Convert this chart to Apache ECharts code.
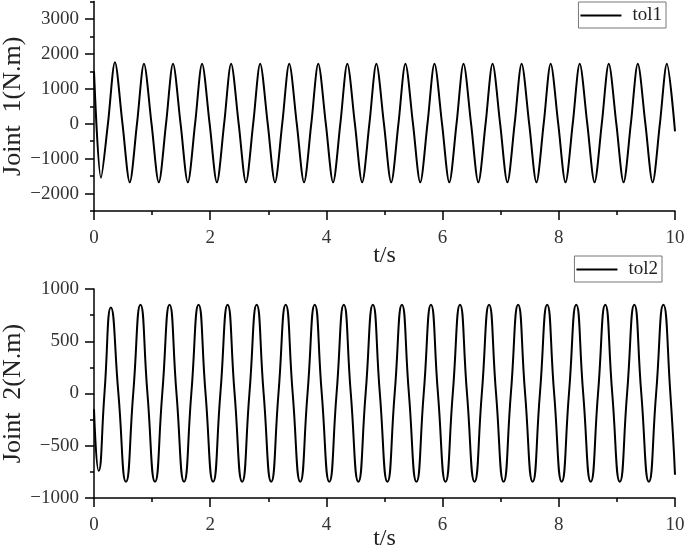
<!DOCTYPE html>
<html>
<head>
<meta charset="utf-8">
<script src="https://cdn.jsdelivr.net/npm/echarts@6/dist/echarts.min.js"></script>
<style>
  html, body { margin: 0; padding: 0; background: #fff; }
  #main { width: 685px; height: 546px; }
</style>
</head>
<body>
<div id="main"></div>
<script>
// joint 1 torque, extrema + zero crossings
var t1 = [0, 0.12, 0.24, 0.36,
  0.49, 0.615, 0.74, 0.86, 0.99, 1.115, 1.24, 1.36, 1.49, 1.615, 1.74, 1.86,
  1.99, 2.115, 2.24, 2.36, 2.49, 2.615, 2.74, 2.86, 2.99, 3.115, 3.24, 3.36,
  3.49, 3.615, 3.74, 3.86, 3.99, 4.115, 4.24, 4.36, 4.49, 4.615, 4.74, 4.86,
  4.99, 5.115, 5.24, 5.36, 5.49, 5.615, 5.74, 5.86, 5.99, 6.115, 6.24, 6.36,
  6.49, 6.615, 6.74, 6.86, 6.99, 7.115, 7.24, 7.36, 7.49, 7.615, 7.74, 7.86,
  7.99, 8.115, 8.24, 8.36, 8.49, 8.615, 8.74, 8.86, 8.99, 9.115, 9.24, 9.36,
  9.49, 9.615, 9.74, 9.86, 10];
var tol1 = [1500, -1550, 0, 1760,
  0, -1680, 0, 1715, 0, -1680, 0, 1715, 0, -1680, 0, 1715,
  0, -1680, 0, 1715, 0, -1680, 0, 1715, 0, -1680, 0, 1715,
  0, -1680, 0, 1715, 0, -1680, 0, 1715, 0, -1680, 0, 1715,
  0, -1680, 0, 1715, 0, -1680, 0, 1715, 0, -1680, 0, 1715,
  0, -1680, 0, 1715, 0, -1680, 0, 1715, 0, -1680, 0, 1715,
  0, -1680, 0, 1715, 0, -1680, 0, 1715, 0, -1680, 0, 1715,
  0, -1680, 0, 1715, -220];

// joint 2 torque
var t2 = [0, 0.08, 0.18, 0.29,
  0.42, 0.55, 0.675, 0.8, 0.92, 1.05, 1.175, 1.3, 1.42, 1.55, 1.675, 1.8,
  1.92, 2.05, 2.175, 2.3, 2.42, 2.55, 2.675, 2.8, 2.92, 3.05, 3.175, 3.3,
  3.42, 3.55, 3.675, 3.8, 3.92, 4.05, 4.175, 4.3, 4.42, 4.55, 4.675, 4.8,
  4.92, 5.05, 5.175, 5.3, 5.42, 5.55, 5.675, 5.8, 5.92, 6.05, 6.175, 6.3,
  6.42, 6.55, 6.675, 6.8, 6.92, 7.05, 7.175, 7.3, 7.42, 7.55, 7.675, 7.8,
  7.92, 8.05, 8.175, 8.3, 8.42, 8.55, 8.675, 8.8, 8.92, 9.05, 9.175, 9.3,
  9.42, 9.55, 9.675, 9.8, 9.92, 10];
var tol2 = [-150, -740, 0, 822,
  0, -845, 0, 850, 0, -845, 0, 850, 0, -845, 0, 850,
  0, -845, 0, 850, 0, -845, 0, 850, 0, -845, 0, 850,
  0, -845, 0, 850, 0, -845, 0, 850, 0, -845, 0, 850,
  0, -845, 0, 850, 0, -845, 0, 850, 0, -845, 0, 850,
  0, -845, 0, 850, 0, -845, 0, 850, 0, -845, 0, 850,
  0, -845, 0, 850, 0, -845, 0, 850, 0, -845, 0, 850,
  0, -845, 0, 850, 0, -777];

var y1Labels = [-2000, -1000, 0, 1000, 2000, 3000];
var y2Labels = [-1000, -500, 0, 500, 1000];

function pairs(ts, vs) {
  var out = [];
  for (var i = 0; i < ts.length; i++) out.push([ts[i], vs[i]]);
  return out;
}

var font = 'Liberation Serif';
var axisLine = { show: true, onZero: false, lineStyle: { color: '#000', width: 1.5 } };
var fmt = function (v) { return v < 0 ? '\u2212' + (-v) : String(v); };

function xAxis(idx, gap) {
  return {
    type: 'value', gridIndex: idx, min: 0, max: 10, interval: 2,
    name: 't/s', nameLocation: 'middle', nameGap: gap, nameMoveOverlap: false,
    nameTextStyle: { fontFamily: font, fontSize: 24, color: '#222' },
    axisLine: axisLine,
    axisTick: { show: true, inside: false, length: 9, lineStyle: { color: '#000', width: 1.5 } },
    minorTick: { show: true, splitNumber: 2, length: 4, lineStyle: { color: '#000', width: 1.5 } },
    axisLabel: { fontFamily: font, fontSize: 19, color: '#333', margin: 18 },
    splitLine: { show: false }
  };
}

function yAxis(idx, min, max, step, labels, name, tickLen, minorLen) {
  return {
    type: 'value', gridIndex: idx, min: min, max: max, interval: step,
    name: name, nameLocation: 'middle', nameGap: 68, nameMoveOverlap: false,
    nameTextStyle: { fontFamily: font, fontSize: 26, color: '#222' },
    axisLine: axisLine,
    axisTick: { show: true, inside: false, length: tickLen, lineStyle: { color: '#000', width: 1.5 } },
    minorTick: { show: true, splitNumber: 2, length: minorLen, lineStyle: { color: '#000', width: 1.5 } },
    axisLabel: {
      fontFamily: font, fontSize: 19, color: '#333', margin: 15,
      customValues: labels, formatter: fmt
    },
    splitLine: { show: false }
  };
}

function legend(name, right, top) {
  return {
    data: [name], right: right, top: top, orient: 'vertical',
    borderColor: '#777', borderWidth: 1, borderRadius: 0,
    padding: [4, 4, 3, 2], itemWidth: 41, itemHeight: 2, icon: 'rect',
    textStyle: { fontFamily: font, fontSize: 19, color: '#222', padding: [0, 0, 0, 6] }
  };
}

var chart = echarts.init(document.getElementById('main'), null, { renderer: 'canvas' });
chart.setOption({
  animation: false,
  backgroundColor: '#fff',
  legend: [legend('tol1', 19, 2), legend('tol2', 23, 256)],
  grid: [
    { left: 94, right: 10, top: 1.5, height: 209.5, containLabel: false, outerBoundsMode: 'none' },
    { left: 94, right: 10, top: 289, height: 209, containLabel: false, outerBoundsMode: 'none' }
  ],
  xAxis: [xAxis(0, 33), xAxis(1, 29)],
  yAxis: [
    // min -2500 puts the 1000-step ticks on the odd 500s (short), minor ticks land on the labelled 1000s (long)
    yAxis(0, -2500, 3500, 1000, y1Labels, 'Joint  1(N.m)', 4, 9),
    yAxis(1, -1000, 1000, 500, y2Labels, 'Joint  2(N.m)', 9, 4)
  ],
  series: [
    {
      name: 'tol1', type: 'line', xAxisIndex: 0, yAxisIndex: 0,
      data: pairs(t1, tol1), symbol: 'none', smooth: 0.3,
      lineStyle: { color: '#000', width: 2 }, itemStyle: { color: '#000' }
    },
    {
      name: 'tol2', type: 'line', xAxisIndex: 1, yAxisIndex: 1,
      data: pairs(t2, tol2), symbol: 'none', smooth: 0.55,
      lineStyle: { color: '#000', width: 2 }, itemStyle: { color: '#000' }
    }
  ]
});
</script>
</body>
</html>
